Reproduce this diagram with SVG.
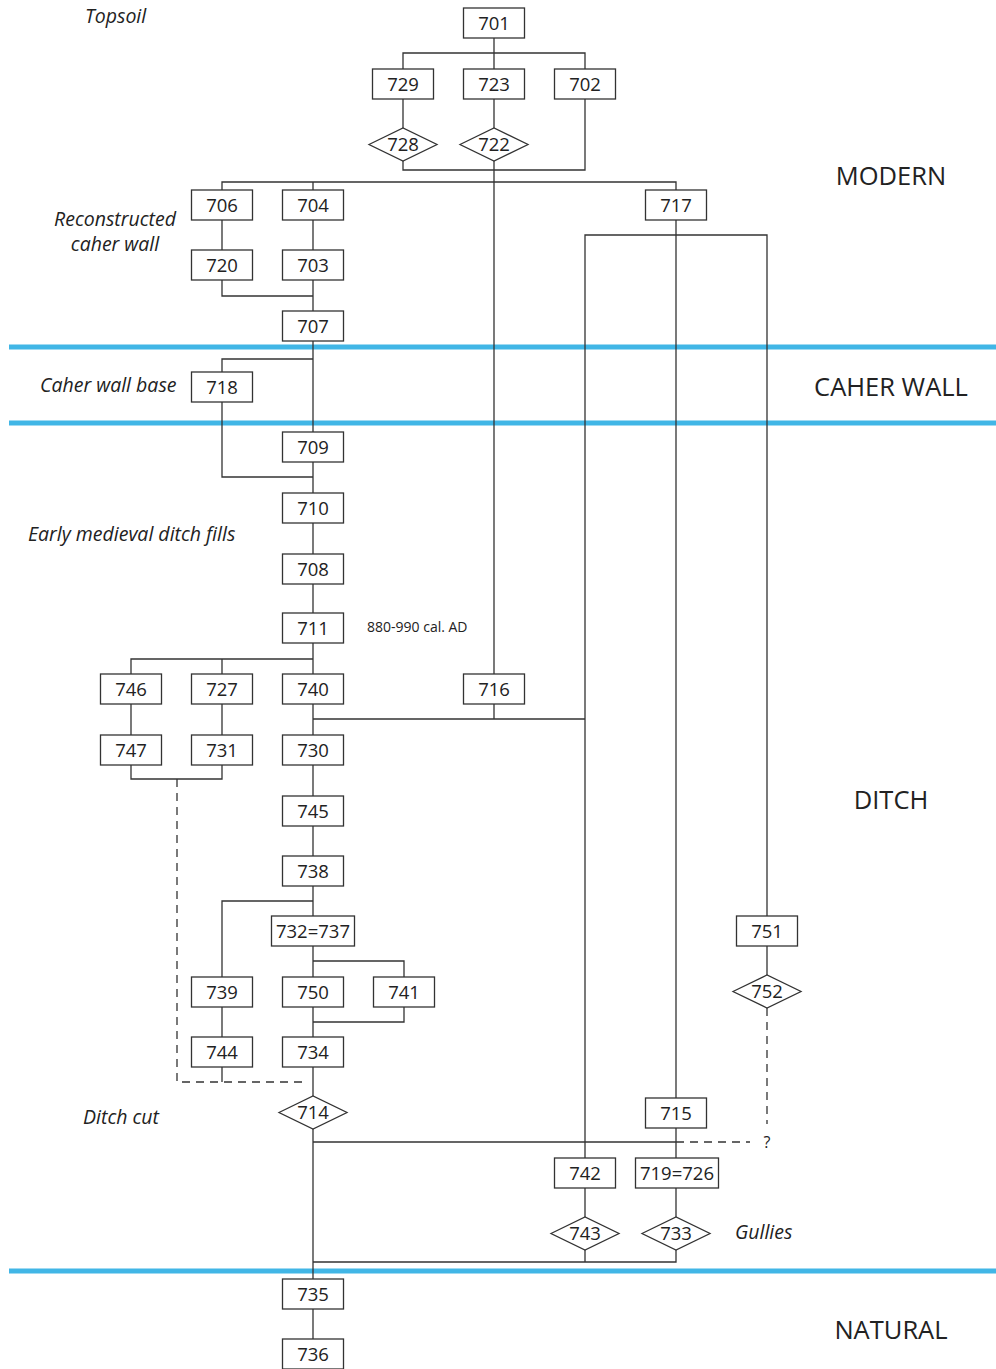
<svg xmlns="http://www.w3.org/2000/svg" width="996" height="1369" viewBox="0 0 996 1369">
<style>
.box{fill:#fff;stroke:#333;stroke-width:1.3}
.lbl{font-family:"Open Sans","Noto Sans",sans-serif;font-size:18.5px;fill:#222;text-anchor:middle}
.it{font-family:"Open Sans","Noto Sans",sans-serif;font-size:19.5px;font-style:italic;fill:#222}
.ph{font-family:"Open Sans","Noto Sans",sans-serif;font-size:25.5px;fill:#222;text-anchor:middle}
.c{fill:none;stroke:#333;stroke-width:1.3}
.d{fill:none;stroke:#333;stroke-width:1.3;stroke-dasharray:8 6}
.band{stroke:#41b6e6;stroke-width:5}
</style>
<rect width="996" height="1369" fill="#fff"/>
<g id="bands">
<line class="band" x1="9" y1="347" x2="996" y2="347"/>
<line class="band" x1="9" y1="423" x2="996" y2="423"/>
<line class="band" x1="9" y1="1271" x2="996" y2="1271"/>
</g>
<g id="connectors">
<path class="c" d="M494 38V69M403 69V53H585V69M403 99V128M494 99V128M403 161V170H585V99M494 161V674"/>
<path class="c" d="M222 190V182H676V190M313 182V190M222 220V250M313 220V250M222 280V296H313M313 280V311M313 341V432"/>
<path class="c" d="M222 372V359H313M222 402V477H313M313 462V493M313 523V554M313 584V613M313 643V674M131 674V659H313M222 659V674"/>
<path class="c" d="M131 704V735M222 704V735M131 765V779H222V765M313 704V735M313 719H585M494 704V719"/>
<path class="c" d="M676 220V1098M585 1158V235H767V916"/>
<path class="c" d="M313 765V796M313 826V856M313 886V916M222 977V901H313M222 1007V1037M222 1067V1082M313 946V977M313 961H404V977M404 1007V1022H313M313 1007V1037M313 1067V1096M313 1129V1279M313 1142H676M676 1128V1158M767 946V975M585 1188V1217M676 1188V1217M585 1250V1262M676 1250V1262H313M313 1309V1339"/>
<path class="d" d="M177 779V1082H308M676 1142H750M767 1008V1124"/>
</g>
<g id="n701"><rect class="box" x="463.5" y="8" width="61" height="30"/><text class="lbl" x="494" y="29.5">701</text></g>
<g id="n729"><rect class="box" x="372.5" y="69" width="61" height="30"/><text class="lbl" x="403" y="90.5">729</text></g>
<g id="n723"><rect class="box" x="463.5" y="69" width="61" height="30"/><text class="lbl" x="494" y="90.5">723</text></g>
<g id="n702"><rect class="box" x="554.5" y="69" width="61" height="30"/><text class="lbl" x="585" y="90.5">702</text></g>
<g id="n728"><polygon class="box" points="369,144.5 403,128 437,144.5 403,161"/><text class="lbl" x="403" y="151">728</text></g>
<g id="n722"><polygon class="box" points="460,144.5 494,128 528,144.5 494,161"/><text class="lbl" x="494" y="151">722</text></g>
<g id="n706"><rect class="box" x="191.5" y="190" width="61" height="30"/><text class="lbl" x="222" y="211.5">706</text></g>
<g id="n704"><rect class="box" x="282.5" y="190" width="61" height="30"/><text class="lbl" x="313" y="211.5">704</text></g>
<g id="n717"><rect class="box" x="645.5" y="190" width="61" height="30"/><text class="lbl" x="676" y="211.5">717</text></g>
<g id="n720"><rect class="box" x="191.5" y="250" width="61" height="30"/><text class="lbl" x="222" y="271.5">720</text></g>
<g id="n703"><rect class="box" x="282.5" y="250" width="61" height="30"/><text class="lbl" x="313" y="271.5">703</text></g>
<g id="n707"><rect class="box" x="282.5" y="311" width="61" height="30"/><text class="lbl" x="313" y="332.5">707</text></g>
<g id="n718"><rect class="box" x="191.5" y="372" width="61" height="30"/><text class="lbl" x="222" y="393.5">718</text></g>
<g id="n709"><rect class="box" x="282.5" y="432" width="61" height="30"/><text class="lbl" x="313" y="453.5">709</text></g>
<g id="n710"><rect class="box" x="282.5" y="493" width="61" height="30"/><text class="lbl" x="313" y="514.5">710</text></g>
<g id="n708"><rect class="box" x="282.5" y="554" width="61" height="30"/><text class="lbl" x="313" y="575.5">708</text></g>
<g id="n711"><rect class="box" x="282.5" y="613" width="61" height="30"/><text class="lbl" x="313" y="634.5">711</text></g>
<g id="n746"><rect class="box" x="100.5" y="674" width="61" height="30"/><text class="lbl" x="131" y="695.5">746</text></g>
<g id="n727"><rect class="box" x="191.5" y="674" width="61" height="30"/><text class="lbl" x="222" y="695.5">727</text></g>
<g id="n740"><rect class="box" x="282.5" y="674" width="61" height="30"/><text class="lbl" x="313" y="695.5">740</text></g>
<g id="n716"><rect class="box" x="463.5" y="674" width="61" height="30"/><text class="lbl" x="494" y="695.5">716</text></g>
<g id="n747"><rect class="box" x="100.5" y="735" width="61" height="30"/><text class="lbl" x="131" y="756.5">747</text></g>
<g id="n731"><rect class="box" x="191.5" y="735" width="61" height="30"/><text class="lbl" x="222" y="756.5">731</text></g>
<g id="n730"><rect class="box" x="282.5" y="735" width="61" height="30"/><text class="lbl" x="313" y="756.5">730</text></g>
<g id="n745"><rect class="box" x="282.5" y="796" width="61" height="30"/><text class="lbl" x="313" y="817.5">745</text></g>
<g id="n738"><rect class="box" x="282.5" y="856" width="61" height="30"/><text class="lbl" x="313" y="877.5">738</text></g>
<g id="n732"><rect class="box" x="271.5" y="916" width="83" height="30"/><text class="lbl" x="313" y="937.5">732=737</text></g>
<g id="n751"><rect class="box" x="736.5" y="916" width="61" height="30"/><text class="lbl" x="767" y="937.5">751</text></g>
<g id="n739"><rect class="box" x="191.5" y="977" width="61" height="30"/><text class="lbl" x="222" y="998.5">739</text></g>
<g id="n750"><rect class="box" x="282.5" y="977" width="61" height="30"/><text class="lbl" x="313" y="998.5">750</text></g>
<g id="n741"><rect class="box" x="373.5" y="977" width="61" height="30"/><text class="lbl" x="404" y="998.5">741</text></g>
<g id="n752"><polygon class="box" points="733,991.5 767,975 801,991.5 767,1008"/><text class="lbl" x="767" y="998">752</text></g>
<g id="n744"><rect class="box" x="191.5" y="1037" width="61" height="30"/><text class="lbl" x="222" y="1058.5">744</text></g>
<g id="n734"><rect class="box" x="282.5" y="1037" width="61" height="30"/><text class="lbl" x="313" y="1058.5">734</text></g>
<g id="n714"><polygon class="box" points="279,1112.5 313,1096 347,1112.5 313,1129"/><text class="lbl" x="313" y="1119">714</text></g>
<g id="n715"><rect class="box" x="645.5" y="1098" width="61" height="30"/><text class="lbl" x="676" y="1119.5">715</text></g>
<g id="n742"><rect class="box" x="554.5" y="1158" width="61" height="30"/><text class="lbl" x="585" y="1179.5">742</text></g>
<g id="n719"><rect class="box" x="635.5" y="1158" width="83" height="30"/><text class="lbl" x="677" y="1179.5">719=726</text></g>
<g id="n743"><polygon class="box" points="551,1233.5 585,1217 619,1233.5 585,1250"/><text class="lbl" x="585" y="1240">743</text></g>
<g id="n733"><polygon class="box" points="642,1233.5 676,1217 710,1233.5 676,1250"/><text class="lbl" x="676" y="1240">733</text></g>
<g id="n735"><rect class="box" x="282.5" y="1279" width="61" height="30"/><text class="lbl" x="313" y="1300.5">735</text></g>
<g id="n736"><rect class="box" x="282.5" y="1339" width="61" height="30"/><text class="lbl" x="313" y="1360.5">736</text></g>
<g id="labels">
<text class="it" x="85" y="23">Topsoil</text>
<text class="it" x="115" y="226" text-anchor="middle">Reconstructed</text>
<text class="it" x="115" y="251" text-anchor="middle">caher wall</text>
<text class="it" x="40" y="392">Caher wall base</text>
<text class="it" x="28" y="541">Early medieval ditch fills</text>
<text x="367" y="632" style="font-family:'Open Sans','Noto Sans',sans-serif;font-size:14px;fill:#222">880-990 cal. AD</text>
<text class="it" x="83" y="1124">Ditch cut</text>
<text class="it" x="735" y="1239">Gullies</text>
<text class="lbl" x="767" y="1148" style="font-size:16px">?</text>
<text class="ph" x="891" y="185">MODERN</text>
<text class="ph" x="891" y="396">CAHER WALL</text>
<text class="ph" x="891" y="809">DITCH</text>
<text class="ph" x="891" y="1339">NATURAL</text>
</g>
</svg>
